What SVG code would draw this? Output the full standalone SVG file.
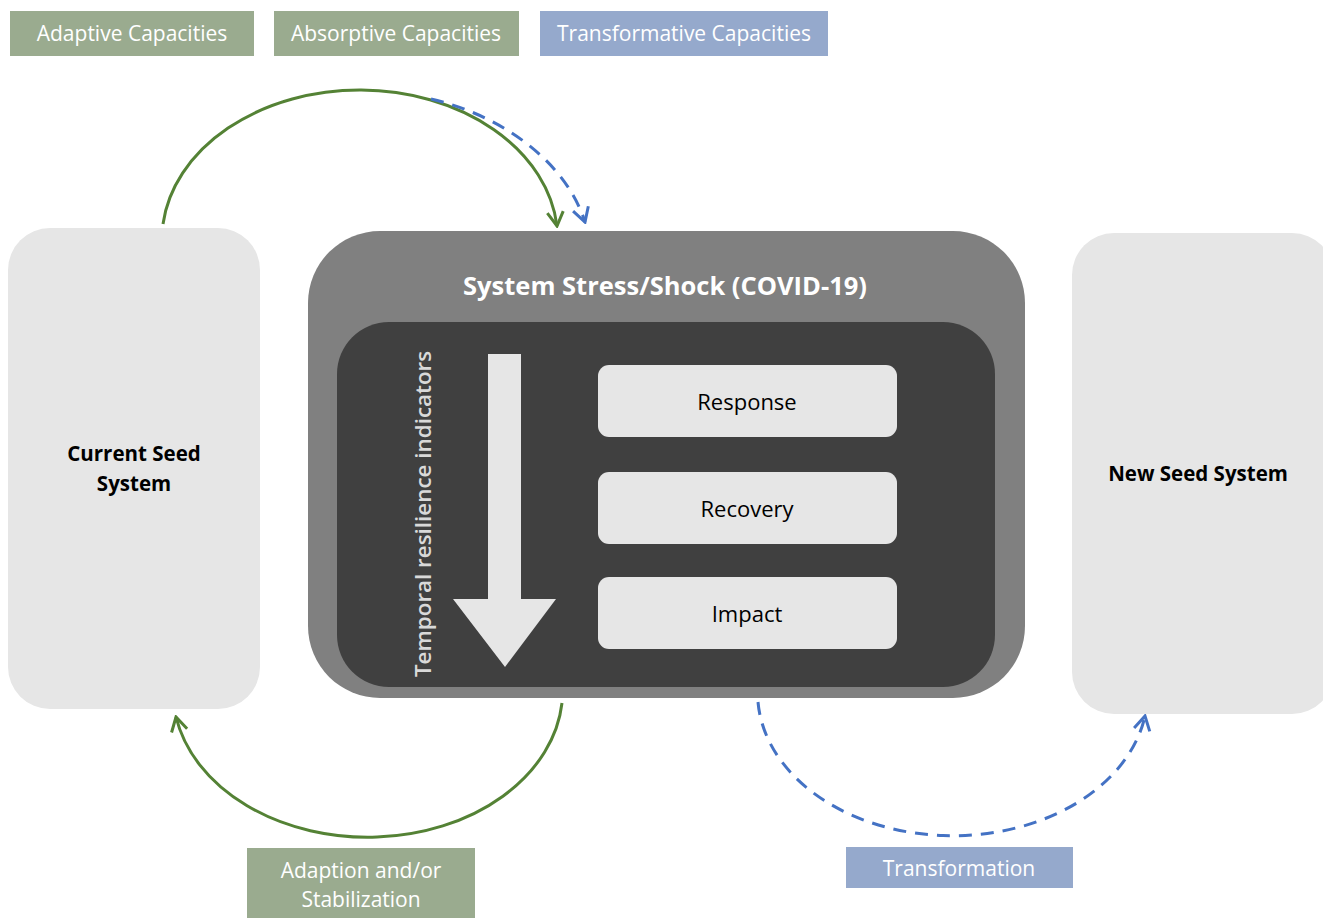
<svg xmlns="http://www.w3.org/2000/svg" width="1323" height="918" viewBox="0 0 1323 918">
<style>
.lbl{font-family:"Open Sans","Liberation Sans",sans-serif;font-size:21px;fill:#ffffff;text-anchor:middle}
.green{fill:#9aab8f}
.blue{fill:#95a9cc}
.side{fill:#e6e6e6}
.sideTxt{font-family:"Open Sans","Liberation Sans",sans-serif;font-size:20.5px;font-weight:bold;fill:#000;text-anchor:middle}
.stage{fill:#e6e6e6}
.stageTxt{font-family:"Open Sans","Liberation Sans",sans-serif;font-size:22px;fill:#000;text-anchor:middle}
.g{fill:none;stroke:#548235;stroke-width:3}
.b{fill:none;stroke:#4472c4;stroke-width:3;stroke-dasharray:13 9}
</style>
<defs>
<marker id="ag" viewBox="0 0 20 20" refX="18" refY="10" markerWidth="20" markerHeight="20" markerUnits="userSpaceOnUse" orient="auto">
<path d="M4,2 L18,10 L4,18" fill="none" stroke="#548235" stroke-width="3"/>
</marker>
<marker id="ab" viewBox="0 0 20 20" refX="18" refY="10" markerWidth="20" markerHeight="20" markerUnits="userSpaceOnUse" orient="auto">
<path d="M4,2 L18,10 L4,18" fill="none" stroke="#4472c4" stroke-width="3"/>
</marker>
</defs>
<rect width="1323" height="918" fill="#fff"/>
<g id="adaptive-capacities"><rect class="green" x="10" y="11" width="244" height="45"/><text class="lbl" x="132" y="41">Adaptive Capacities</text></g>
<g id="absorptive-capacities"><rect class="green" x="274" y="11" width="245" height="45"/><text class="lbl" x="396" y="41">Absorptive Capacities</text></g>
<g id="transformative-capacities"><rect class="blue" x="540" y="11" width="288" height="45"/><text class="lbl" x="684" y="41">Transformative Capacities</text></g>
<g id="current-seed-system"><rect class="side" x="8" y="228" width="252" height="481" rx="42"/><text class="sideTxt" x="134" y="461">Current Seed</text><text class="sideTxt" x="134" y="491">System</text></g>
<g id="new-seed-system"><rect class="side" x="1072" y="233" width="262" height="481" rx="42"/><text class="sideTxt" x="1198" y="481">New Seed System</text></g>
<g id="system-stress"><rect x="308" y="231" width="717" height="467" rx="72" fill="#808080"/><text x="665" y="295" font-family="Open Sans, Liberation Sans, sans-serif" font-size="25.5" font-weight="bold" fill="#fff" text-anchor="middle">System Stress/Shock (COVID-19)</text>
<rect x="337" y="322" width="658" height="365" rx="52" fill="#404040"/></g>
<g id="temporal-arrow"><path d="M488,354 H521 V599 H556 L505,667 L453,599 H488 Z" fill="#e6e6e6"/><text transform="translate(431,514) rotate(-90)" font-family="Open Sans, Liberation Sans, sans-serif" font-size="22.4" font-weight="600" fill="#d9d9d9" text-anchor="middle">Temporal resilience indicators</text></g>
<g id="response"><rect class="stage" x="598" y="365" width="299" height="72" rx="11"/><text class="stageTxt" x="747" y="410">Response</text></g>
<g id="recovery"><rect class="stage" x="598" y="472" width="299" height="72" rx="11"/><text class="stageTxt" x="747" y="517">Recovery</text></g>
<g id="impact"><rect class="stage" x="598" y="577" width="299" height="72" rx="11"/><text class="stageTxt" x="747" y="622">Impact</text></g>
<g id="adaption-stabilization"><rect class="green" x="247" y="848" width="228" height="70"/><text class="lbl" x="361" y="878">Adaption and/or</text><text class="lbl" x="361" y="907">Stabilization</text></g>
<g id="transformation"><rect class="blue" x="846" y="847" width="227" height="41"/><text class="lbl" x="959" y="876">Transformation</text></g>
<g id="connectors">
<path class="g" d="M163,224 A198,150 0 0 1 557,226" marker-end="url(#ag)"/>
<path class="b" d="M431,99 C500,115 565,160 585,222" marker-end="url(#ab)"/>
<path class="g" d="M562,703 A195,147 0 0 1 176,717" marker-end="url(#ag)"/>
<path class="b" d="M758,702 A195,143 0 0 0 1145,716" marker-end="url(#ab)"/>
</g>
</svg>
